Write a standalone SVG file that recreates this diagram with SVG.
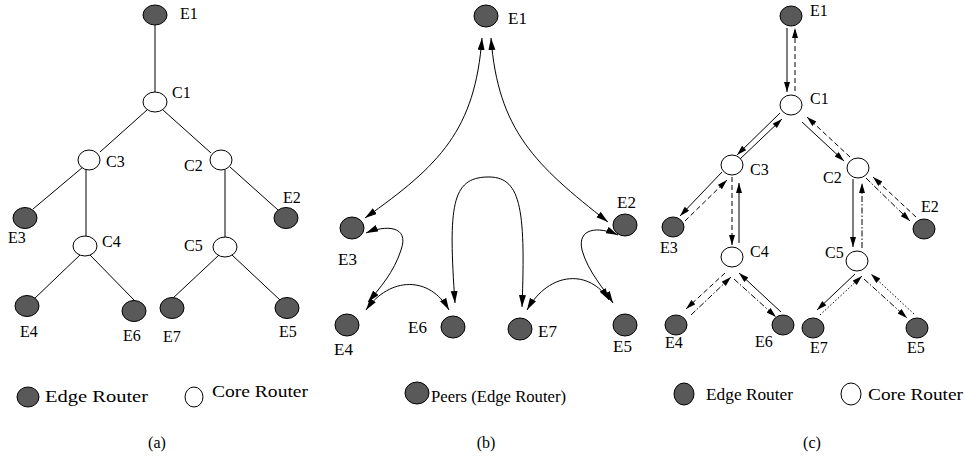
<svg xmlns="http://www.w3.org/2000/svg" width="965" height="457" viewBox="0 0 965 457">
  <style>
    .bg { fill: #ffffff; }
    .edge { fill: #595959; stroke: #000000; stroke-width: 1; }
    .core { fill: #ffffff; stroke: #000000; stroke-width: 1; }
    .lbl { font-family: "Liberation Serif", "Times New Roman", serif; font-size: 16px; fill: #000000; }
    .lblb { font-family: "Liberation Serif", "Times New Roman", serif; font-size: 17px; fill: #000000; }
    .leg { font-family: "Liberation Serif", "Times New Roman", serif; font-size: 16px; fill: #000000; }
    .cap { font-family: "Liberation Serif", "Times New Roman", serif; font-size: 16px; fill: #000000; text-anchor: middle; }
    .link { fill: none; stroke: #000000; stroke-width: 1; }
    .curve { fill: none; stroke: #000000; stroke-width: 1; marker-start: url(#headB); marker-end: url(#headB); }
    .solid { fill: none; stroke: #000000; stroke-width: 1; marker-end: url(#headC); }
    .dash { fill: none; stroke: #000000; stroke-width: 1; stroke-dasharray: 5 3; marker-end: url(#headC); }
    .dashdot { fill: none; stroke: #000000; stroke-width: 1; stroke-dasharray: 6 2 1.5 2; marker-end: url(#headC); }
    .dot { fill: none; stroke: #000000; stroke-width: 1; stroke-dasharray: 1.5 2; marker-end: url(#headC); }
  </style>
  <defs>
    <marker id="headB" markerUnits="userSpaceOnUse" markerWidth="13" markerHeight="8" refX="12" refY="3.5" orient="auto-start-reverse">
      <path d="M0,0 L12,3.5 L0,7 z" fill="#000000"/>
    </marker>
    <marker id="headC" markerUnits="userSpaceOnUse" markerWidth="11" markerHeight="7" refX="10" refY="3" orient="auto">
      <path d="M0,0 L10,3 L0,6 z" fill="#000000"/>
    </marker>
  </defs>
  <rect class="bg" x="0" y="0" width="965" height="457"/>

  <!-- (a) tree topology -->
  <g id="links-a">
    <path class="link" d="M155,25 V92"/>
    <path class="link" d="M147,110 L100,152"/>
    <path class="link" d="M163,110 L211,153"/>
    <path class="link" d="M83,167 L33,209"/>
    <path class="link" d="M86,170 V236"/>
    <path class="link" d="M230,167 L278,210"/>
    <path class="link" d="M225,170 V237"/>
    <path class="link" d="M81,254 L34,299"/>
    <path class="link" d="M89,254 L135,301"/>
    <path class="link" d="M219,255 L172,299"/>
    <path class="link" d="M232,255 L280,300"/>
  </g>
  <g id="a-E1"><ellipse class="edge" cx="155" cy="15" rx="12" ry="10"/><text class="lbl" x="180" y="19">E1</text></g>
  <g id="a-C1"><ellipse class="core" cx="155" cy="102" rx="12" ry="10"/><text class="lbl" x="172" y="98">C1</text></g>
  <g id="a-C3"><ellipse class="core" cx="89" cy="160" rx="11" ry="10"/><text class="lbl" x="106" y="167">C3</text></g>
  <g id="a-C2"><ellipse class="core" cx="221" cy="160" rx="11" ry="10"/><text class="lbl" x="184" y="171">C2</text></g>
  <g id="a-E3"><ellipse class="edge" cx="25" cy="218" rx="12" ry="10.5"/><text class="lbl" x="8" y="243">E3</text></g>
  <g id="a-C4"><ellipse class="core" cx="85" cy="246" rx="12" ry="10"/><text class="lbl" x="102" y="247">C4</text></g>
  <g id="a-E2"><ellipse class="edge" cx="286" cy="218" rx="12" ry="10.5"/><text class="lbl" x="283" y="203">E2</text></g>
  <g id="a-C5"><ellipse class="core" cx="225" cy="247" rx="12" ry="10"/><text class="lbl" x="184" y="251">C5</text></g>
  <g id="a-E4"><ellipse class="edge" cx="27" cy="306" rx="12" ry="10.5"/><text class="lbl" x="20" y="337">E4</text></g>
  <g id="a-E6"><ellipse class="edge" cx="134" cy="311" rx="12" ry="10.5"/><text class="lbl" x="123" y="341">E6</text></g>
  <g id="a-E7"><ellipse class="edge" cx="172" cy="308" rx="12" ry="10.5"/><text class="lbl" x="163" y="342">E7</text></g>
  <g id="a-E5"><ellipse class="edge" cx="287" cy="308" rx="12" ry="10.5"/><text class="lbl" x="279" y="337">E5</text></g>

  <!-- (b) peer overlay -->
  <g id="links-b">
    <path class="curve" d="M482,38 C475,130 440,165 365,218"/>
    <path class="curve" d="M491,38 C498,130 535,165 608,222"/>
    <path class="curve" d="M455,303 C448,205 452,178 487,177 C520,176 526,205 522,307"/>
    <path class="curve" d="M366,233 C385,225 410,225 401,250 C394,272 380,288 368,302"/>
    <path class="curve" d="M366,310 C390,276 430,276 449,310"/>
    <path class="curve" d="M527,310 C550,270 590,270 609,300"/>
    <path class="curve" d="M618,235 C598,226 577,228 582,250 C588,272 605,290 613,303"/>
  </g>
  <g id="b-E1"><ellipse class="edge" cx="486" cy="16" rx="12" ry="11"/><text class="lblb" x="508" y="24">E1</text></g>
  <g id="b-E3"><ellipse class="edge" cx="352" cy="228" rx="12" ry="11"/><text class="lblb" x="338" y="265">E3</text></g>
  <g id="b-E2"><ellipse class="edge" cx="625" cy="225" rx="12" ry="11"/><text class="lblb" x="617" y="208">E2</text></g>
  <g id="b-E4"><ellipse class="edge" cx="347" cy="325" rx="12" ry="11"/><text class="lblb" x="334" y="355">E4</text></g>
  <g id="b-E6"><ellipse class="edge" cx="453" cy="327" rx="12" ry="11"/><text class="lblb" x="408" y="333">E6</text></g>
  <g id="b-E7"><ellipse class="edge" cx="520" cy="329" rx="12" ry="11"/><text class="lblb" x="538" y="337">E7</text></g>
  <g id="b-E5"><ellipse class="edge" cx="625" cy="325" rx="12" ry="11"/><text class="lblb" x="613" y="352">E5</text></g>

  <!-- (c) tree with per-direction flows -->
  <g id="links-c">
    <path class="solid" d="M787,28 V92"/>
    <path class="dash" d="M795,91 V28"/>
    <path class="solid" d="M780,113 L737,155"/>
    <path class="solid" d="M739,160 L782,119"/>
    <path class="solid" d="M802,122 L844,161"/>
    <path class="dash" d="M850,157 L807,117"/>
    <path class="solid" d="M722,172 L680,216"/>
    <path class="dash" d="M685,221 L727,180"/>
    <path class="dash" d="M732,177 V245"/>
    <path class="solid" d="M739,243 V183"/>
    <path class="solid" d="M853,179 V247"/>
    <path class="dashdot" d="M862,248 V183"/>
    <path class="dashdot" d="M866,178 L910,221"/>
    <path class="dash" d="M916,217 L873,177"/>
    <path class="dash" d="M725,273 L686,309"/>
    <path class="dashdot" d="M691,315 L731,277"/>
    <path class="solid" d="M781,312 L739,273"/>
    <path class="dashdot" d="M734,279 L776,317"/>
    <path class="solid" d="M855,274 L817,310"/>
    <path class="dot" d="M820,315 L862,276"/>
    <path class="dashdot" d="M864,279 L907,318"/>
    <path class="dot" d="M914,314 L871,274"/>
  </g>
  <g id="c-E1"><ellipse class="edge" cx="791" cy="16" rx="11" ry="10"/><text class="lbl" x="810" y="16">E1</text></g>
  <g id="c-C1"><ellipse class="core" cx="791" cy="105" rx="11" ry="10"/><text class="lbl" x="810" y="104">C1</text></g>
  <g id="c-C3"><ellipse class="core" cx="732" cy="165" rx="11" ry="10"/><text class="lbl" x="750" y="175">C3</text></g>
  <g id="c-C2"><ellipse class="core" cx="858" cy="168" rx="11" ry="10"/><text class="lbl" x="823" y="183">C2</text></g>
  <g id="c-E3"><ellipse class="edge" cx="673" cy="227" rx="11" ry="10"/><text class="lbl" x="660" y="253">E3</text></g>
  <g id="c-C4"><ellipse class="core" cx="732" cy="257" rx="11" ry="10"/><text class="lbl" x="750" y="257">C4</text></g>
  <g id="c-E2"><ellipse class="edge" cx="924" cy="229" rx="11" ry="10"/><text class="lbl" x="921" y="212">E2</text></g>
  <g id="c-C5"><ellipse class="core" cx="857" cy="261" rx="11" ry="10"/><text class="lbl" x="825" y="258">C5</text></g>
  <g id="c-E4"><ellipse class="edge" cx="676" cy="325" rx="11" ry="10"/><text class="lbl" x="665" y="348">E4</text></g>
  <g id="c-E6"><ellipse class="edge" cx="783" cy="325" rx="11" ry="10"/><text class="lbl" x="755" y="347">E6</text></g>
  <g id="c-E7"><ellipse class="edge" cx="813" cy="328" rx="11" ry="10"/><text class="lbl" x="810" y="353">E7</text></g>
  <g id="c-E5"><ellipse class="edge" cx="917" cy="328" rx="11" ry="10"/><text class="lbl" x="907" y="353">E5</text></g>

  <!-- legends -->
  <g id="legend-a">
    <ellipse class="edge" cx="28" cy="397" rx="11" ry="10"/>
    <text class="leg" x="45" y="402" textLength="103" lengthAdjust="spacingAndGlyphs">Edge Router</text>
    <ellipse class="core" cx="194" cy="397" rx="9" ry="10"/>
    <text class="leg" x="212" y="397" textLength="96" lengthAdjust="spacingAndGlyphs">Core Router</text>
  </g>
  <g id="legend-b">
    <ellipse class="edge" cx="417" cy="393" rx="12" ry="11"/>
    <text class="leg" x="431" y="402" textLength="135" lengthAdjust="spacingAndGlyphs">Peers (Edge Router)</text>
  </g>
  <g id="legend-c">
    <ellipse class="edge" cx="684" cy="394" rx="10" ry="11"/>
    <text class="leg" x="706" y="400" textLength="87" lengthAdjust="spacingAndGlyphs">Edge Router</text>
    <ellipse class="core" cx="851" cy="394" rx="10" ry="11"/>
    <text class="leg" x="868" y="400" textLength="95" lengthAdjust="spacingAndGlyphs">Core Router</text>
  </g>

  <!-- panel captions -->
  <text class="cap" x="157" y="448">(a)</text>
  <text class="cap" x="486" y="448">(b)</text>
  <text class="cap" x="812" y="448">(c)</text>
</svg>
